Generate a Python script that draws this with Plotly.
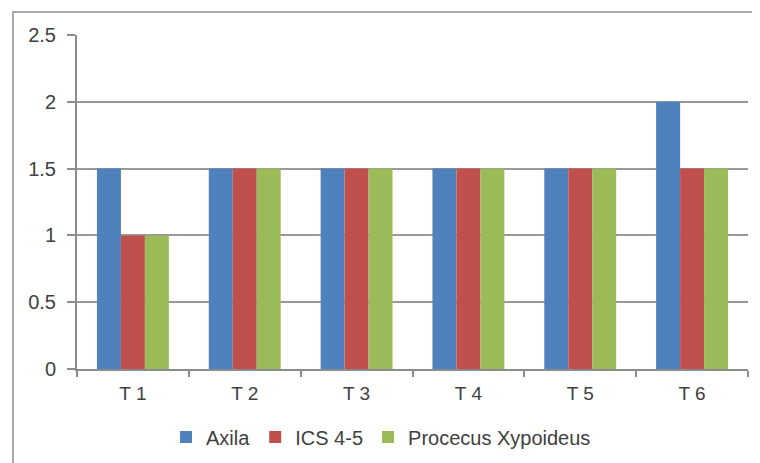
import plotly.graph_objects as go

categories = ["T 1", "T 2", "T 3", "T 4", "T 5", "T 6"]
axila = [1.5, 1.5, 1.5, 1.5, 1.5, 2]
ics = [1, 1.5, 1.5, 1.5, 1.5, 1.5]
procecus = [1, 1.5, 1.5, 1.5, 1.5, 1.5]
series_names = ["Axila", "ICS 4-5", "Procecus Xypoideus"]
colors = ["#4F81BD", "#C0504D", "#9BBB59"]

fig = go.Figure()
for name, vals, col in zip(series_names, [axila, ics, procecus], colors):
    fig.add_trace(go.Bar(x=categories, y=vals, name=name, marker_color=col,
                         marker_line_width=0))

OFF = 8  # page body margin
W, H = 760 - OFF, 463 - OFF
# target plot area in window coordinates: x 77..748, y 35..369
l, r, t, b = 77 - OFF, 12, 35 - OFF, 94
pw, ph = W - l - r, H - t - b
X0, Y0 = 77, 369  # window coords of plot origin

fig.update_layout(
    width=W, height=H,
    margin=dict(l=l, r=r, t=t, b=b, autoexpand=False),
    paper_bgcolor="white", plot_bgcolor="white",
    barmode="group", bargap=0.357, bargroupgap=0,
    font=dict(family="Liberation Sans, Arial", size=20, color="#404040"),
    showlegend=True,
    legend=dict(orientation="h", x=(166 - X0) / pw, xanchor="left",
                y=(Y0 - 437) / ph, yanchor="middle",
                font=dict(size=20, color="#404040"),
                itemwidth=30, tracegroupgap=0),
    xaxis=dict(showline=True, linecolor="#8c8c8c", linewidth=2,
               ticks="outside", tickson="boundaries", ticklen=6,
               tickcolor="#8c8c8c", tickwidth=2, showgrid=False,
               tickfont=dict(size=19, color="#404040"),
               ticklabelstandoff=6),
    yaxis=dict(range=[0, 2.5], dtick=0.5, showline=True, linecolor="#8c8c8c",
               linewidth=2, ticks="outside", ticklen=8, tickcolor="#8c8c8c",
               tickwidth=2, showgrid=True, gridcolor="#999999", gridwidth=1.5,
               zeroline=False, tickfont=dict(size=20, color="#404040"),
               ticklabelstandoff=7),
)

fig.add_shape(type="rect", xref="paper", yref="paper",
              x0=(13 - X0) / pw, x1=(790 - X0) / pw,
              y0=(Y0 - 500) / ph, y1=(Y0 - 12) / ph,
              line=dict(color="#aaaaaa", width=2), fillcolor="rgba(0,0,0,0)",
              layer="below")

fig.write_html("out.html")
